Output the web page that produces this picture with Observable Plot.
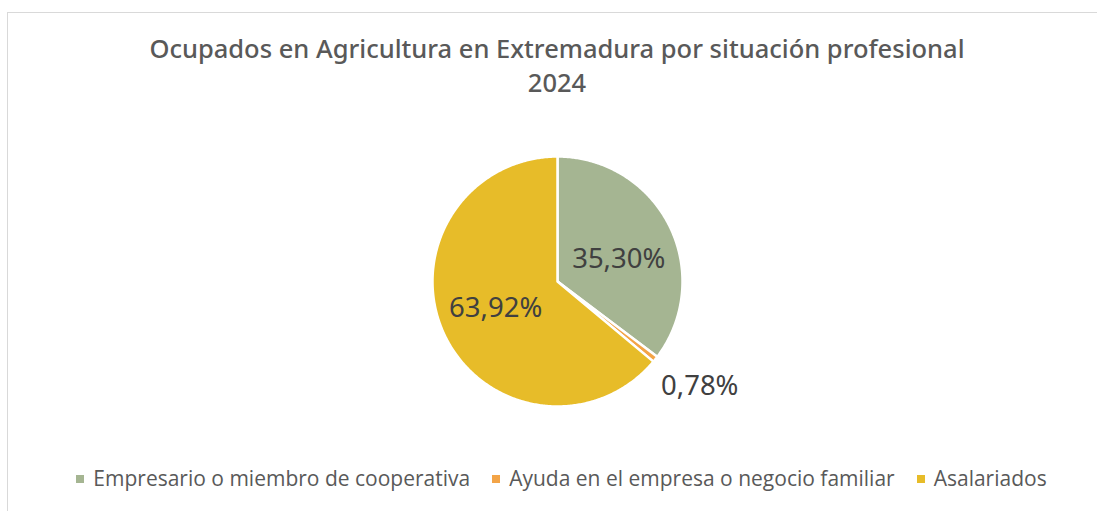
<!DOCTYPE html>
<html>
<head>
<meta charset="utf-8">
<script src="https://cdn.jsdelivr.net/npm/d3@7"></script>
<script src="https://cdn.jsdelivr.net/npm/@observablehq/plot@0.6"></script>
<style>
  html, body { margin: 0; padding: 0; background: #fff; }
  #frame { position: relative; width: 1097px; height: 511px; overflow: hidden; }
  #border { position: absolute; left: 7px; top: 12px; width: 1100px; height: 520px;
            border-left: 1.5px solid #d9d9d9; border-top: 1.5px solid #d9d9d9; box-sizing: border-box; }
  #title { position: absolute; left: 57px; width: 1000px; top: 31px; text-align: center;
           font-family: "Noto Sans", sans-serif; font-weight: 500; font-size: 25.5px; line-height: 34px; color: #595959; }
  #pie { position: absolute; left: 347px; top: 70.5px; }
  #legend { position: absolute; left: 0; width: 1123px; top: 464px; text-align: center;
            font-family: "Open Sans", sans-serif; font-size: 21px; color: #595959; white-space: nowrap; }
  #legend span.item { margin: 0 11px; }
  #legend span.sw { display: inline-block; width: 8px; height: 8px; margin-right: 9px; vertical-align: 3px; }
</style>
</head>
<body>
<div id="frame">
  <div id="border"></div>
  <div id="title">Ocupados en Agricultura en Extremadura por situación profesional<br>2024</div>
  <div id="pie"></div>
  <div id="legend"></div>
</div>
<script>
const categories = ["Empresario o miembro de cooperativa", "Ayuda en el empresa o negocio familiar", "Asalariados"];
const values = [35.30, 0.78, 63.92];
const labels = ["35,30%", "0,78%", "63,92%"];
const colors = ["#A5B592", "#F3A447", "#E7BC29"];

const total = d3.sum(values);
let acc = 0;
const slices = categories.map((c, i) => {
  const a0 = acc / total * 2 * Math.PI;
  acc += values[i];
  const a1 = acc / total * 2 * Math.PI;
  const n = Math.max(4, Math.ceil((a1 - a0) / 0.01));
  const ring = [[0, 0]];
  for (let k = 0; k <= n; k++) {
    const a = a0 + (a1 - a0) * k / n;
    ring.push([Math.sin(a), -Math.cos(a)]);
  }
  ring.push([0, 0]);
  const small = values[i] < 5;
  const mid = (a0 + a1) / 2 + (small ? -0.05 : 0.07);
  const lr = small ? 1.4 : 0.53;
  return {
    category: c, value: values[i], label: labels[i], color: colors[i],
    geom: {type: "Polygon", coordinates: [ring]},
    lx: lr * Math.sin(mid), ly: -lr * Math.cos(mid)
  };
});

const chart = Plot.plot({
  width: 420, height: 420,
  margin: 0, inset: 85,
  projection: {type: "identity", clip: false, inset: 85, domain: {type: "MultiPoint", coordinates: [[-1, -1], [1, 1]]}},
  marks: [
    Plot.geo(slices, {geometry: d => d.geom, fill: d => d.color, stroke: "#fff", strokeWidth: 2.5}),
    Plot.text(slices, {x: "lx", y: "ly", text: "label", fill: "#404040", fontSize: 27.5,
      fontFamily: "'Noto Sans', sans-serif", dy: 3})
  ]
});
chart.style.overflow = "visible";
document.getElementById("pie").appendChild(chart);

const legend = document.getElementById("legend");
categories.forEach((c, i) => {
  const item = document.createElement("span");
  item.className = "item";
  const sw = document.createElement("span");
  sw.className = "sw";
  sw.style.background = colors[i];
  item.appendChild(sw);
  item.appendChild(document.createTextNode(c));
  legend.appendChild(item);
});
</script>
</body>
</html>
